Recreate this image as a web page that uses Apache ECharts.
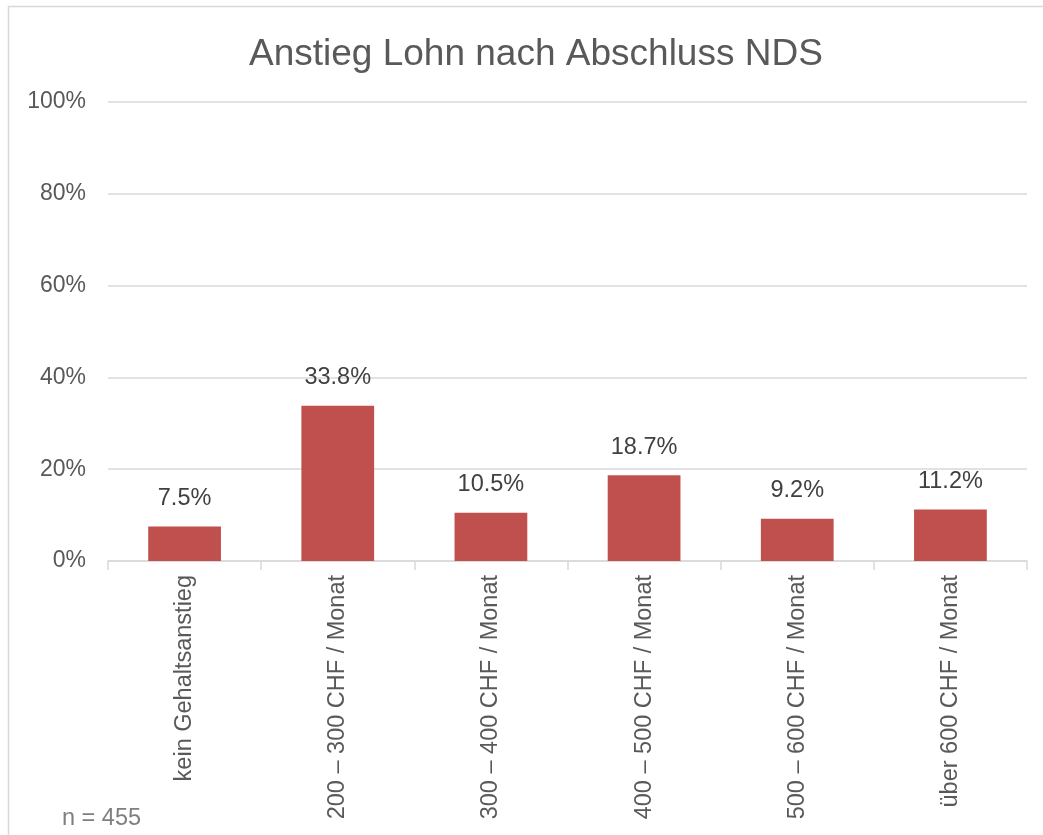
<!DOCTYPE html>
<html>
<head>
<meta charset="utf-8">
<title>Anstieg Lohn nach Abschluss NDS</title>
<script src="https://cdn.jsdelivr.net/npm/echarts@6/dist/echarts.min.js"></script>
<style>
  html, body { margin: 0; padding: 0; background: #fff; }
  #chart { width: 1043px; height: 835px; }
</style>
</head>
<body>
<div id="chart"></div>
<script>
  // data
  var categories = [
    'kein Gehaltsanstieg',
    '200 – 300 CHF / Monat',
    '300 – 400 CHF / Monat',
    '400 – 500 CHF / Monat',
    '500 – 600 CHF / Monat',
    'über 600 CHF / Monat'
  ]
  var anteil = [7.5, 33.8, 10.5, 18.7, 9.2, 11.2]
  var sampleNote = 'n = 455'

  var fontFamily = '"Liberation Sans", Arial, sans-serif'
  var chart = echarts.init(document.getElementById('chart'))

  chart.setOption({
    animation: false,
    textStyle: { fontFamily: fontFamily },
    title: {
      text: 'Anstieg Lohn nach Abschluss NDS',
      left: 244,
      top: 31,
      textStyle: {
        fontFamily: fontFamily,
        fontSize: 37,
        fontWeight: 'normal',
        color: '#595959'
      }
    },
    graphic: [
      {
        type: 'rect',
        shape: { x: 8.5, y: 6.5, width: 1200, height: 1000 },
        style: { fill: 'none', stroke: '#d9d9d9', lineWidth: 1.5 },
        silent: true
      },
      {
        type: 'text',
        left: 62,
        top: 807,
        style: {
          text: sampleNote,
          font: '23.5px "Liberation Sans", Arial, sans-serif',
          fill: '#7f7f7f'
        }
      }
    ],
    grid: {
      left: 108,
      right: 16,
      top: 102,
      bottom: 274,
      containLabel: false
    },
    xAxis: {
      type: 'category',
      data: categories,
      axisLine: { lineStyle: { color: '#d9d9d9', width: 1.5 } },
      axisTick: { show: true, length: 9, lineStyle: { color: '#d9d9d9', width: 1.5 } },
      axisLabel: {
        rotate: 90,
        interval: 0,
        margin: 14,
        fontSize: 23.5,
        color: '#595959',
        fontFamily: fontFamily
      }
    },
    yAxis: {
      type: 'value',
      min: 0,
      max: 100,
      interval: 20,
      axisLine: { show: false },
      axisTick: { show: false },
      splitLine: { lineStyle: { color: '#d9d9d9', width: 1.5 } },
      axisLabel: {
        margin: 22,
        fontSize: 23,
        color: '#595959',
        fontFamily: fontFamily,
        formatter: '{value}%'
      }
    },
    series: [{
      type: 'bar',
      data: anteil,
      barWidth: '47.5%',
      itemStyle: { color: '#C0504D' },
      label: {
        show: true,
        position: 'top',
        distance: 16,
        fontSize: 23.5,
        color: '#404040',
        fontFamily: fontFamily,
        formatter: function (p) { return p.value.toFixed(1) + '%' }
      }
    }]
  })
</script>
</body>
</html>
